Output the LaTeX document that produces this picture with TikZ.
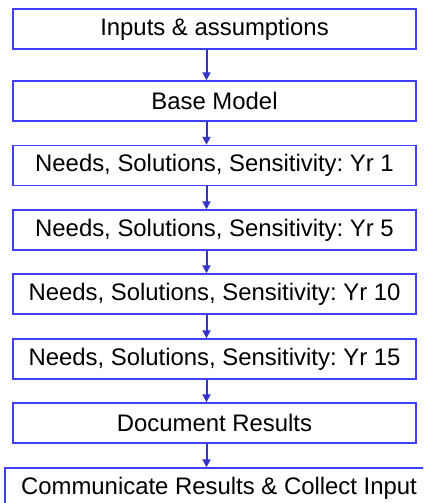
\documentclass[tikz,border=0pt]{standalone}
\usepackage{fontspec}
\setmainfont{Liberation Sans}
\usetikzlibrary{arrows.meta}
\frenchspacing

\definecolor{boxblue}{RGB}{64,64,250}
\definecolor{flowblue}{RGB}{51,51,204}

\begin{document}
\begin{tikzpicture}[x=1pt, y=-1pt, >={Triangle[length=8pt,width=8pt]},
  stage/.style={draw=boxblue, fill=white, line width=1.4pt, minimum width=403pt,
    minimum height=40pt, inner sep=0pt, font=\fontsize{23.9}{28}\selectfont},
  flow/.style={->, flowblue, line width=2pt}]

  %% ---- page frame ----
  \clip (0,0) rectangle (423,503);
  \fill[white] (0,0) rectangle (423,503);

  %% ---- process stages ----
  \node[stage] (inputs) at (214.5,29)    {Inputs \& assumptions};
  \node[stage] (base)   at (214.5,101)   {Base Model};
  \node[stage] (yr1)    at (214.5,165.5) {Needs, Solutions, Sensitivity: Yr 1};
  \node[stage] (yr5)    at (214.5,230)   {Needs, Solutions, Sensitivity: Yr 5};
  \node[stage] (yr10)   at (214.5,294)   {Needs, Solutions, Sensitivity: Yr 10};
  \node[stage] (yr15)   at (214.5,359)   {Needs, Solutions, Sensitivity: Yr 15};
  \node[stage] (docres) at (214.5,423)   {Document Results};
  \node[stage, minimum width=440pt] (commres) at (225,488) {};
  \node[font=\fontsize{23.9}{28}\selectfont] (commtext) at (219,488)
    {Communicate Results \& Collect Input};

  %% ---- flow arrows ----
  \draw[flow] ([xshift=-8pt]inputs.south) -- ([xshift=-8pt]base.north);
  \draw[flow] ([xshift=-8pt]base.south)   -- ([xshift=-8pt]yr1.north);
  \draw[flow] ([xshift=-8pt]yr1.south)    -- ([xshift=-8pt]yr5.north);
  \draw[flow] ([xshift=-8pt]yr5.south)    -- ([xshift=-8pt]yr10.north);
  \draw[flow] ([xshift=-8pt]yr10.south)   -- ([xshift=-8pt]yr15.north);
  \draw[flow] ([xshift=-8pt]yr15.south)   -- ([xshift=-8pt]docres.north);
  \draw[flow] ([xshift=-8pt]docres.south) -- ([xshift=-8pt]docres.south |- commres.north);

\end{tikzpicture}
\end{document}
